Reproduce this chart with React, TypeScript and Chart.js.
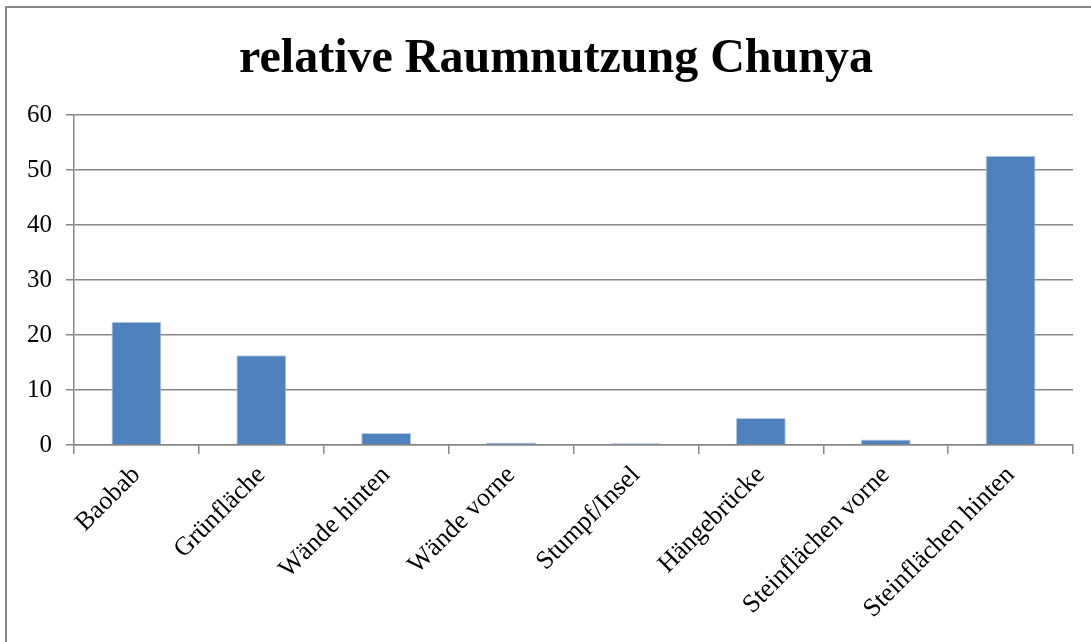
import React, { useEffect, useRef } from "react";
import { Chart, registerables } from "chart.js";

Chart.register(...registerables);

const categories = [
  "Baobab",
  "Grünfläche",
  "Wände hinten",
  "Wände vorne",
  "Stumpf/Insel",
  "Hängebrücke",
  "Steinflächen vorne",
  "Steinflächen hinten",
];
const values = [22.4, 16.3, 2.2, 0.45, 0.3, 4.9, 1.0, 52.6];
const yTicks = [0, 10, 20, 30, 40, 50, 60];
const titleText = "relative Raumnutzung Chunya";

const GRID = "#878787";
const FONT = "'Liberation Serif', 'Times New Roman', serif";

const frame = {
  id: "frame",
  beforeDraw(chart: any) {
    const ctx = chart.ctx;
    ctx.save();
    ctx.fillStyle = "#ffffff";
    ctx.fillRect(0, 0, chart.width, chart.height);
    ctx.strokeStyle = GRID;
    ctx.lineWidth = 2;
    ctx.strokeRect(6, 7, 2000, 2000);
    ctx.restore();
  },
  afterDraw(chart: any) {
    const ctx = chart.ctx;
    ctx.save();
    ctx.fillStyle = "#000";
    ctx.font = "bold 48px " + FONT;
    ctx.textAlign = "center";
    ctx.textBaseline = "alphabetic";
    ctx.fillText(titleText, 556, 72);
    ctx.restore();
  },
};

export default function App() {
  const ref = useRef<HTMLCanvasElement>(null);
  useEffect(() => {
    document.body.style.margin = "0";
    document.body.style.overflow = "hidden";
    const chart = new Chart(ref.current!, {
      type: "bar",
      data: {
        labels: categories,
        datasets: [
          {
            data: values,
            backgroundColor: "#4F81BD",
            borderColor: "#B9CDE5",
            borderWidth: 1,
            barPercentage: 0.4,
            categoryPercentage: 1.0,
          },
        ],
      },
      plugins: [frame],
      options: {
        responsive: false,
        animation: false,
        layout: { padding: { left: 0, right: 18, top: 115, bottom: 0 } },
        plugins: {
          legend: { display: false },
          tooltip: { enabled: false },
          title: { display: false },
        },
        scales: {
          y: {
            min: 0,
            max: 60,
            afterBuildTicks: (s: any) => {
              s.ticks = yTicks.map((v) => ({ value: v }));
            },
            afterFit: (s: any) => {
              s.width = 74;
            },
            ticks: {
              color: "#000",
              font: { family: FONT, size: 25 },
              padding: 14,
            },
            grid: { color: GRID, lineWidth: 1.5, tickLength: 8 },
            border: { display: true, color: GRID, width: 1.5 },
          },
          x: {
            afterFit: (s: any) => {
              s.height = 642 - 445;
            },
            ticks: {
              color: "#000",
              font: { family: FONT, size: 26 },
              minRotation: 45,
              maxRotation: 45,
              padding: 6,
            },
            grid: {
              display: true,
              offset: true,
              drawOnChartArea: false,
              color: GRID,
              lineWidth: 1.5,
              tickLength: 9,
            },
            border: { display: true, color: GRID, width: 1.5 },
          },
        },
      },
    } as any);
    return () => chart.destroy();
  }, []);
  return (
    <div style={{ position: "fixed", left: 0, top: 0, width: 1091, height: 642, overflow: "hidden" }}>
      <canvas ref={ref} width={1091} height={642} />
    </div>
  );
}
